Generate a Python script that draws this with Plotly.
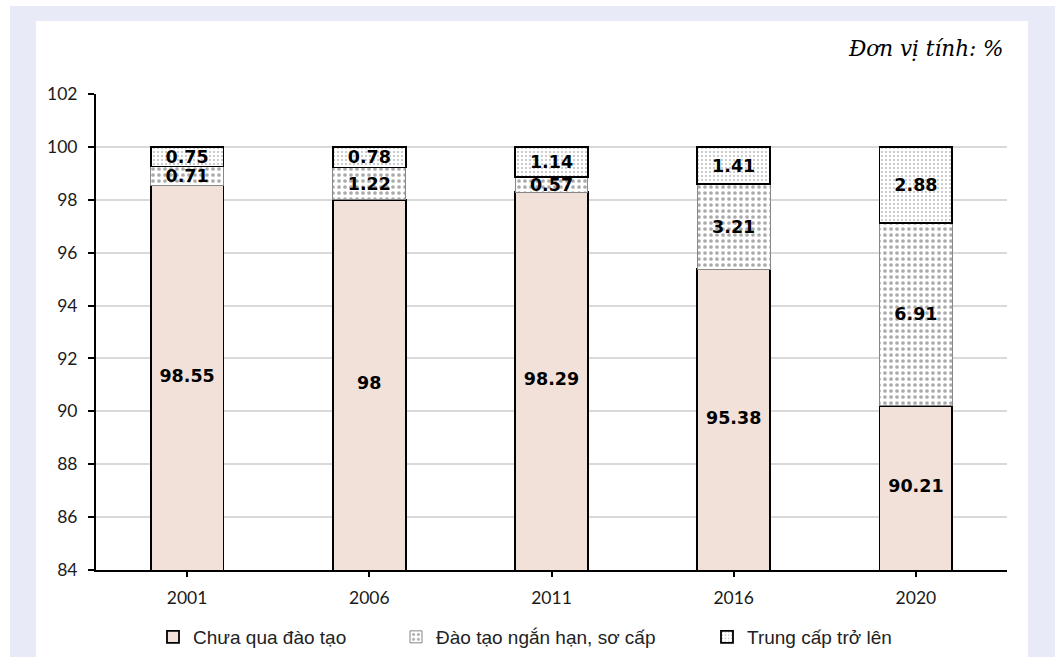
import plotly.graph_objects as go

years = ["2001", "2006", "2011", "2016", "2020"]
untrained = [98.55, 98, 98.29, 95.38, 90.21]
short_term = [0.71, 1.22, 0.57, 3.21, 6.91]
intermediate = [0.75, 0.78, 1.14, 1.41, 2.88]
names = ["Chưa qua đào tạo", "Đào tạo ngắn hạn, sơ cấp", "Trung cấp trở lên"]
y_ticks = [84, 86, 88, 90, 92, 94, 96, 98, 100, 102]
y_min, y_max = 84, 102

label_font = dict(family="DejaVu Sans", size=17.5, color="black")

fig = go.Figure()
fig.add_trace(go.Bar(
    x=years, y=untrained, name=names[0], legend="legend",
    marker=dict(color="#F2E1D9", line=dict(color="black", width=1.8)),
    textposition="none", width=0.4,
))
fig.add_trace(go.Bar(
    x=years, y=short_term, name=names[1], legend="legend2",
    marker=dict(color="white", line=dict(color="#888888", width=1),
                pattern=dict(shape=".", fgcolor="#555555", bgcolor="white",
                             size=6, solidity=0.3)),
    text=[f"<b>{v:g}</b>" for v in short_term], textposition="inside",
    insidetextanchor="middle", textfont=label_font, width=0.4,
))
fig.add_trace(go.Bar(
    x=years, y=intermediate, name=names[2], legend="legend3",
    marker=dict(color="white", line=dict(color="black", width=1.8),
                pattern=dict(shape=".", fgcolor="#777777", bgcolor="white",
                             size=4, solidity=0.2)),
    text=[f"<b>{v:g}</b>" for v in intermediate], textposition="inside",
    insidetextanchor="middle", textfont=label_font, width=0.4,
))
# labels of the first series, centred in the visible part of each bar
fig.add_trace(go.Scatter(
    x=years, y=[(y_min + v) / 2 for v in untrained], mode="text",
    text=[f"<b>{v:g}</b>" for v in untrained], textfont=label_font,
    showlegend=False, hoverinfo="skip",
))

legend_common = dict(orientation="h", yanchor="top", xanchor="left",
                     font=dict(family="Liberation Sans", size=19, color="#222222"),
                     bgcolor="rgba(0,0,0,0)", itemwidth=30)
leg_y = (570 - 618) / 476

fig.update_layout(
    barmode="stack",
    width=1058, height=657,
    margin=dict(l=96, r=51, t=94, b=87, autoexpand=False),
    paper_bgcolor="white",
    plot_bgcolor="rgba(0,0,0,0)",
    uniformtext=dict(minsize=16, mode="show"),
    showlegend=True,
    legend=dict(x=(153 - 96) / 911, y=leg_y, **legend_common),
    legend2=dict(x=(396 - 96) / 911, y=leg_y, **legend_common),
    legend3=dict(x=(707 - 96) / 911, y=leg_y, **legend_common),
    xaxis=dict(
        showline=True, linecolor="black", linewidth=2,
        ticks="outside", ticklen=5, tickwidth=1.5, tickcolor="black",
        tickfont=dict(family="Lato", size=17.5, color="#1a1a1a"),
        showgrid=False, fixedrange=True, ticklabelstandoff=6,
    ),
    yaxis=dict(
        range=[y_min, y_max], tickvals=y_ticks,
        showline=True, linecolor="black", linewidth=2,
        ticks="outside", ticklen=6, tickwidth=1.5, tickcolor="black",
        tickfont=dict(family="Lato", size=17.5, color="#1a1a1a"),
        showgrid=True, gridcolor="#D9D9D9", gridwidth=1.5,
        zeroline=False, ticklabelstandoff=7, fixedrange=True,
    ),
    shapes=[
        dict(type="rect", xref="paper", yref="paper", layer="below",
             x0=(10 - 96) / 911, x1=(1055 - 96) / 911,
             y0=(570 - 662) / 476, y1=(570 - 6) / 476,
             fillcolor="#E8EBF7", line=dict(width=0)),
        dict(type="rect", xref="paper", yref="paper", layer="below",
             x0=(36 - 96) / 911, x1=(1028 - 96) / 911,
             y0=(570 - 662) / 476, y1=(570 - 21) / 476,
             fillcolor="white", line=dict(width=0)),
    ],
    annotations=[
        dict(text="<i>Đơn vị tính: %</i>", xref="paper", yref="paper",
             x=(1006 - 96) / 911, y=(570 - 49) / 476, xanchor="right",
             yanchor="middle", showarrow=False,
             font=dict(family="DejaVu Serif", size=21.5, color="black")),
    ],
)

fig.write_html("out.html")
